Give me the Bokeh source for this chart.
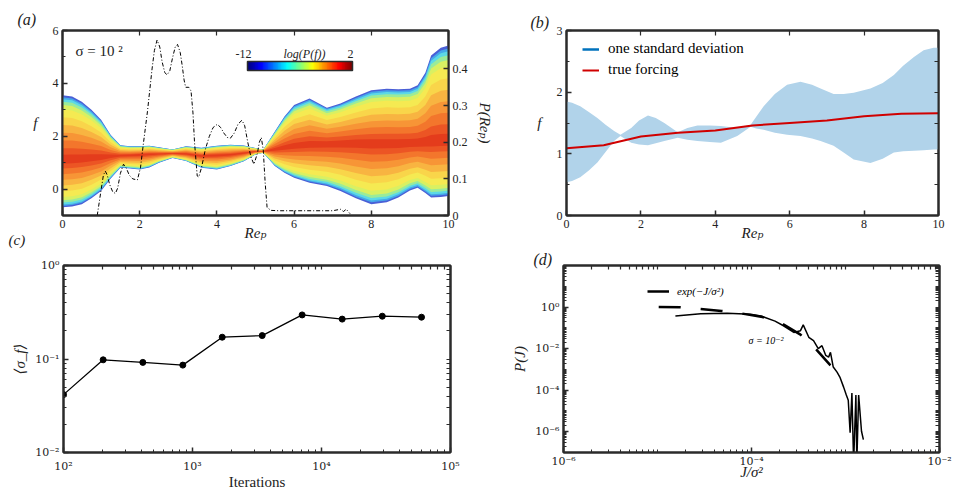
import numpy as np
from bokeh.plotting import figure
from bokeh.layouts import column, row
from bokeh.models import (Range1d, LinearAxis, LogAxis, FixedTicker, Label, Legend, Title,
                          LegendItem, ColorBar, LinearColorMapper, CustomJSTickFormatter)
from bokeh.embed import file_html
from bokeh.resources import INLINE

# ---------------- data ----------------
# (a) ensemble of inferred forcing profiles: outer envelope and densest core
re_env = [0, 0.25, 0.5, 0.75, 1.0, 1.25, 1.5, 1.75, 2.0, 2.25, 2.5, 2.85, 3.2, 3.6, 4.0,
          4.35, 4.7, 5.0, 5.2, 5.5, 5.75, 6.0, 6.4, 6.85, 7.2, 7.6, 8.0, 8.4, 8.7, 9.0,
          9.2, 9.4, 9.55, 9.8, 10]
f_upper = [3.55, 3.5, 3.3, 3.0, 2.62, 2.05, 1.66, 1.62, 1.62, 1.64, 1.58, 1.5, 1.62, 1.56,
           1.64, 1.68, 1.65, 1.55, 1.49, 2.18, 2.75, 3.18, 3.43, 3.08, 3.24, 3.5, 3.74, 3.8,
           3.78, 3.8, 3.93, 4.4, 5.05, 5.35, 5.43]
f_lower = [-0.69, -0.66, -0.57, -0.35, -0.07, 0.4, 0.81, 0.78, 0.74, 0.82, 1.0, 1.18, 1.06,
           0.81, 0.74, 0.87, 1.05, 1.31, 1.37, 0.87, 0.62, 0.43, 0.24, 0.12, -0.07, -0.35,
           -0.57, -0.5, -0.32, -0.05, 0.05, -0.15, -0.32, -0.3, -0.26]
f_core = [1.1, 1.12, 1.14, 1.17, 1.2, 1.24, 1.27, 1.28, 1.3, 1.32, 1.33, 1.35, 1.33, 1.26,
          1.28, 1.3, 1.36, 1.42, 1.43, 1.5, 1.56, 1.62, 1.68, 1.7, 1.72, 1.73, 1.72, 1.72,
          1.72, 1.73, 1.74, 1.76, 1.78, 1.8, 1.8]

# (a) distribution of Re_p (right axis)
re_p = [0.9, 1.0, 1.06, 1.11, 1.16, 1.22, 1.3, 1.37, 1.43, 1.5, 1.58, 1.65, 1.73, 1.82,
        1.94, 2.02, 2.1, 2.2, 2.32, 2.38, 2.45, 2.52, 2.58, 2.65, 2.71, 2.78, 2.85, 2.92,
        2.98, 3.05, 3.1, 3.15, 3.19, 3.27, 3.33, 3.38, 3.42, 3.49, 3.53, 3.6, 3.7, 3.8,
        3.9, 4.01, 4.1, 4.18, 4.27, 4.35, 4.45, 4.55, 4.65, 4.72, 4.8, 4.88, 4.96, 5.05,
        5.1, 5.15, 5.2, 5.25, 5.3, 5.4, 5.6, 6.0, 6.5, 7.0, 7.2, 7.28, 7.35, 7.45]
p_re = [0.0, 0.07, 0.11, 0.121, 0.11, 0.085, 0.065, 0.06, 0.075, 0.115, 0.14, 0.13, 0.11,
        0.10, 0.097, 0.13, 0.2, 0.283, 0.40, 0.45, 0.479, 0.46, 0.42, 0.39, 0.384, 0.395,
        0.43, 0.46, 0.467, 0.445, 0.41, 0.37, 0.35, 0.35, 0.34, 0.28, 0.2, 0.108, 0.105,
        0.13, 0.18, 0.215, 0.24, 0.249, 0.24, 0.225, 0.213, 0.211, 0.225, 0.25, 0.26, 0.245,
        0.2, 0.16, 0.14, 0.17, 0.2, 0.213, 0.18, 0.09, 0.022, 0.014, 0.013, 0.013, 0.013,
        0.013, 0.017, 0.011, 0.017, 0.005]

# (b) one-standard-deviation band and the true forcing
re_band = [0, 0.15, 0.37, 0.6, 0.83, 1.05, 1.28, 1.45, 1.74, 1.95, 2.19, 2.4, 2.63, 2.99,
           3.25, 3.52, 3.85, 4.15, 4.59, 4.95, 5.1, 5.3, 5.6, 5.93, 6.29, 6.6, 6.83, 7.18,
           7.45, 7.72, 8.17, 8.5, 8.8, 9.05, 9.34, 9.6, 9.87, 10]
std_upper = [1.85, 1.83, 1.77, 1.68, 1.58, 1.47, 1.37, 1.31, 1.42, 1.54, 1.62, 1.58, 1.50,
             1.35, 1.42, 1.46, 1.46, 1.45, 1.42, 1.47, 1.6, 1.77, 1.97, 2.12, 2.17, 2.12,
             2.06, 1.97, 1.97, 1.99, 2.06, 2.15, 2.28, 2.43, 2.57, 2.68, 2.72, 2.72]
std_lower = [0.54, 0.56, 0.62, 0.73, 0.86, 1.03, 1.21, 1.29, 1.18, 1.15, 1.14, 1.17, 1.21,
             1.26, 1.23, 1.21, 1.19, 1.18, 1.29, 1.44, 1.41, 1.39, 1.34, 1.31, 1.29, 1.25,
             1.21, 1.13, 1.02, 0.91, 0.85, 0.92, 1.02, 1.04, 1.05, 1.06, 1.07, 1.07]
re_true = [0, 1, 2, 3, 4, 5, 6, 7, 8, 9, 10]
f_true = [1.09, 1.14, 1.28, 1.34, 1.38, 1.46, 1.50, 1.54, 1.61, 1.65, 1.66]

# (c) mean spread versus number of iterations
iterations = [100, 203, 412, 841, 1700, 3470, 7080, 14470, 29600, 59600]
sigma_f = [0.0416, 0.098, 0.092, 0.086, 0.171, 0.178, 0.296, 0.267, 0.287, 0.28]

# (d) distribution of the cost and the exponential reference
j_data = [1.55e-5, 2.88e-5, 5.50e-5, 9.77e-5, 1.26e-4, 1.78e-4, 2.19e-4, 2.82e-4, 3.31e-4,
          3.55e-4, 4.07e-4, 4.57e-4, 5.13e-4, 5.62e-4, 6.17e-4, 6.61e-4, 6.92e-4, 7.41e-4,
          8.13e-4, 8.71e-4, 9.55e-4, 1.02e-3, 1.07e-3, 1.12e-3, 1.17e-3, 1.22e-3, 1.29e-3,
          1.32e-3, 1.38e-3, 1.48e-3, 1.55e-3]
p_data = [0.37, 0.47, 0.51, 0.45, 0.37, 0.21, 0.126, 0.060, 0.072, 0.138, 0.035, 0.024,
          0.010, 0.0138, 0.0047, 0.0039, 0.0066, 0.0013, 7.4e-4, 4.3e-4, 1.4e-4, 5.8e-5,
          3.3e-5, 8.9e-7, 7.2e-5, 3.2e-8, 5.8e-5, 3.2e-8, 5.8e-5, 1.05e-6, 4.2e-7]
j_exp = [1.03e-5, 1.76e-5, 2.86e-5, 4.80e-5, 7.64e-5, 1.31e-4, 2.14e-4, 3.32e-4, 4.80e-4, 6.92e-4]
p_exp = [1.0, 0.98, 0.81, 0.65, 0.50, 0.33, 0.155, 0.047, 0.010, 1.55e-3]

# ---------------- styling ----------------
SERIF = "'Liberation Serif', 'DejaVu Serif', serif"
SERIF_SUP = "'DejaVu Serif', serif"  # has every superscript digit
INK = "#2b2b2b"
TXT = "#222222"

# colour of each nested shade of the ensemble, from the envelope inwards
shade_frac = [1.00, 0.97, 0.94, 0.90, 0.85, 0.78, 0.66, 0.54, 0.42, 0.30, 0.18, 0.08]
shade_col = ["#4a5fd6", "#45a8ea", "#5cd9e6", "#9aeb9a", "#d9f062", "#f5ea52", "#f9d54a",
             "#f8b441", "#f79536", "#f3762c", "#ec5524", "#e43c1c"]


def jet(n):
    t = np.linspace(0, 1, n)
    r = np.clip(1.5 - np.abs(4 * t - 3), 0, 1)
    g = np.clip(1.5 - np.abs(4 * t - 2), 0, 1)
    b = np.clip(1.5 - np.abs(4 * t - 1), 0, 1)
    return ["#%02x%02x%02x" % (int(255 * a), int(255 * c), int(255 * d)) for a, c, d in zip(r, g, b)]


def pow10():
    return CustomJSTickFormatter(code="""
const sup = {'-': '\u207b', '0': '\u2070', '1': '\u00b9', '2': '\u00b2', '3': '\u00b3',
             '4': '\u2074', '5': '\u2075', '6': '\u2076', '7': '\u2077', '8': '\u2078', '9': '\u2079'};
const e = Math.round(Math.log10(tick));
return '10' + String(e).split('').map(c => sup[c]).join('');
""")


def log_minor(e0, e1):
    return [k * 10.0 ** e for e in range(e0, e1) for k in range(1, 10)] + [10.0 ** e1]


def style_axis(ax):
    ax.axis_line_color = INK
    ax.axis_line_width = 2
    ax.major_tick_in = 5
    ax.major_tick_out = 0
    ax.minor_tick_in = 3
    ax.minor_tick_out = 0
    ax.major_tick_line_color = INK
    ax.minor_tick_line_color = INK
    ax.major_tick_line_width = 1.5
    ax.major_label_text_font = SERIF
    ax.major_label_text_font_size = "12px"
    ax.major_label_text_color = TXT
    ax.major_label_standoff = 4
    ax.axis_label_text_font = SERIF
    ax.axis_label_text_font_size = "15px"
    ax.axis_label_text_font_style = "italic"
    ax.axis_label_text_color = TXT
    ax.axis_label_standoff = 6


def log_labels(ax):
    ax.formatter = pow10()
    ax.major_label_text_font = SERIF_SUP
    ax.major_label_text_font_size = "11px"


def mirror(p, kind, ticks, side, length=4):
    # tick-only axis on the opposite edge of the frame
    ax = kind(ticker=FixedTicker(ticks=[], minor_ticks=ticks))
    style_axis(ax)
    ax.minor_tick_in = length
    ax.minor_tick_line_width = 1.2
    p.add_layout(ax, side)


def make_fig(**kw):
    p = figure(output_backend="svg", toolbar_location=None, **kw)
    p.grid.visible = False
    p.outline_line_color = INK
    p.outline_line_width = 2
    p.background_fill_color = "white"
    p.border_fill_color = "white"
    return p


def panel_tag(title, text, offset, standoff, size="16px"):
    title.text = text
    title.align = "left"
    title.offset = offset
    title.standoff = standoff
    title.text_font = SERIF
    title.text_font_size = size
    title.text_font_style = "italic"
    title.text_color = TXT


def note(p, text, x, y, size="12px", style="normal", align="left"):
    p.add_layout(Label(x=x, y=y, x_units="screen", y_units="screen", text=text,
                       text_font=SERIF, text_font_size=size, text_font_style=style,
                       text_color=TXT, text_baseline="middle", text_align=align))


# ---------------- (a) ----------------
pa = make_fig(width=500, height=250, x_range=Range1d(0, 10), y_range=Range1d(-1, 6),
              min_border_left=62, min_border_right=52, min_border_top=28, min_border_bottom=35)
pa.extra_y_ranges = {"p": Range1d(0, 0.505)}

core = np.array(f_core)
up = np.array(f_upper)
lo = np.array(f_lower)
for t, c in zip(shade_frac, shade_col):
    pa.varea(x=re_env, y1=core + t * (lo - core), y2=core + t * (up - core),
             fill_color=c, fill_alpha=1.0)

pa.line(re_p, p_re, y_range_name="p", color="black", line_width=1, line_dash="4 2 1 2")

xa = pa.xaxis[0]
style_axis(xa)
xa.ticker = FixedTicker(ticks=[0, 2, 4, 6, 8, 10])
xa.axis_label = "Reₚ"
xa.axis_label_standoff = -6
ya = pa.yaxis[0]
style_axis(ya)
ya.ticker = FixedTicker(ticks=[0, 2, 4, 6], minor_ticks=[-1, 1, 3, 5])
ya.axis_label = "f"
ya.axis_label_orientation = "horizontal"
ya.axis_label_standoff = 12

ax_p = LinearAxis(y_range_name="p", ticker=FixedTicker(ticks=[0, 0.1, 0.2, 0.3, 0.4]),
                  axis_label="P(Reₚ)")
style_axis(ax_p)
pa.add_layout(ax_p, "right")
mirror(pa, LinearAxis, [0, 2, 4, 6, 8, 10], "above", 5)

cbar = ColorBar(color_mapper=LinearColorMapper(palette=jet(64), low=-12, high=2),
                orientation="horizontal", location=(185, 145), width=105, height=9,
                padding=0, ticker=FixedTicker(ticks=[]), title=None,
                bar_line_color=INK, bar_line_width=1.5,
                background_fill_alpha=0, border_line_color=None, major_tick_line_color=None)
pa.add_layout(cbar)
note(pa, "-12", 173, 162)
note(pa, "log(P(f))", 242, 162, style="italic", align="center")
note(pa, "2", 288, 162, align="center")
note(pa, "σ = 10 ²", 13, 165, size="15px")
panel_tag(pa.title, "(a)", -45, 5)
# the tag of the lower-left plot sits in the gap under this one
tag_c = Title()
panel_tag(tag_c, "(c)", -54, -24, size="15px")
tag_c.vertical_align = "top"
pa.add_layout(tag_c, "below")

# ---------------- (b) ----------------
pb = make_fig(width=462, height=250, x_range=Range1d(0, 10), y_range=Range1d(0, 3),
              min_border_left=66, min_border_right=24, min_border_top=30, min_border_bottom=33)
pb.varea(x=re_band, y1=std_lower, y2=std_upper, fill_color="#b1d3ea", fill_alpha=1.0)
r_sd = pb.line([np.nan], [np.nan], color="#0072bd", line_width=2.5)
r_true = pb.line(re_true, f_true, color="#d00000", line_width=2)

xb = pb.xaxis[0]
style_axis(xb)
xb.ticker = FixedTicker(ticks=[0, 2, 4, 6, 8, 10])
xb.axis_label = "Reₚ"
xb.axis_label_standoff = -6
yb = pb.yaxis[0]
style_axis(yb)
yb.ticker = FixedTicker(ticks=[0, 1, 2, 3], minor_ticks=[0.5, 1.5, 2.5])
yb.axis_label = "f"
yb.axis_label_orientation = "horizontal"
yb.axis_label_standoff = 12
mirror(pb, LinearAxis, [0, 2, 4, 6, 8, 10], "above", 5)
mirror(pb, LinearAxis, [0, 0.5, 1, 1.5, 2, 2.5, 3], "right", 4)

leg_b = Legend(items=[LegendItem(label="one standard deviation", renderers=[r_sd]),
                      LegendItem(label="true forcing", renderers=[r_true])],
               location=(16, 137), padding=0, margin=0, spacing=4,
               label_height=16, glyph_height=16, glyph_width=17, label_standoff=9,
               label_text_font=SERIF, label_text_font_size="15px", label_text_color="black",
               background_fill_alpha=0, border_line_color=None)
pb.add_layout(leg_b)
panel_tag(pb.title, "(b)", -36, 0)

# ---------------- (c) ----------------
pc = make_fig(width=500, height=248, x_axis_type="log", y_axis_type="log",
              x_range=Range1d(1e2, 1e5), y_range=Range1d(1e-2, 1e0),
              min_border_left=63, min_border_right=50, min_border_top=10, min_border_bottom=45)
pc.line(iterations, sigma_f, color="black", line_width=1.3)
pc.scatter(iterations, sigma_f, size=6, color="black")

xc = pc.xaxis[0]
style_axis(xc)
xc.ticker = FixedTicker(ticks=[1e2, 1e3, 1e4, 1e5], minor_ticks=log_minor(2, 5))
log_labels(xc)
xc.major_label_standoff = 7
xc.axis_label = "Iterations"
xc.axis_label_text_font_style = "normal"
xc.axis_label_standoff = -2
yc = pc.yaxis[0]
style_axis(yc)
yc.ticker = FixedTicker(ticks=[1e-2, 1e-1, 1e0], minor_ticks=log_minor(-2, 0))
log_labels(yc)
yc.axis_label = "⟨σ_f⟩"
yc.axis_label_standoff = 4
mirror(pc, LogAxis, log_minor(2, 5), "above")
mirror(pc, LogAxis, log_minor(-2, 0), "right")

# ---------------- (d) ----------------
pd = make_fig(width=462, height=248, x_axis_type="log", y_axis_type="log",
              x_range=Range1d(1e-6, 1e-2), y_range=Range1d(1e-7, 1e2),
              min_border_left=63, min_border_right=23, min_border_top=14, min_border_bottom=46)
r_exp = pd.line(j_exp, p_exp, color="black", line_width=2.5, line_dash="22 20")
pd.line(j_data, p_data, color="black", line_width=1.5)

xd = pd.xaxis[0]
style_axis(xd)
xd.ticker = FixedTicker(ticks=[1e-6, 1e-4, 1e-2], minor_ticks=log_minor(-6, -2))
log_labels(xd)
xd.major_label_standoff = 2
xd.axis_label = "J/σ²"
xd.axis_label_standoff = -7
yd = pd.yaxis[0]
style_axis(yd)
yd.ticker = FixedTicker(ticks=[1e-6, 1e-4, 1e-2, 1e0], minor_ticks=log_minor(-7, 2))
log_labels(yd)
yd.axis_label = "P(J)"
yd.axis_label_standoff = 4
mirror(pd, LogAxis, log_minor(-6, -2), "above")
mirror(pd, LogAxis, log_minor(-7, 2), "right")

leg_d = Legend(items=[LegendItem(label="exp(−J/σ²)", renderers=[r_exp])],
               location=(84, 155), padding=0, margin=0, label_height=12, glyph_height=12,
               glyph_width=22, label_standoff=8, label_text_font=SERIF,
               label_text_font_size="11px", label_text_font_style="italic",
               label_text_color="black", background_fill_alpha=0, border_line_color=None)
pd.add_layout(leg_d)
pd.add_layout(Label(x=9.3e-5, y=0.024, text="σ = 10⁻²", text_font=SERIF,
                    text_font_size="10px", text_font_style="italic", text_color="black",
                    text_baseline="middle", text_align="left"))
panel_tag(pd.title, "(d)", -30, -4)

layout = column(row(pa, pb), row(pc, pd))
open("out.html", "w").write(file_html(layout, INLINE))
